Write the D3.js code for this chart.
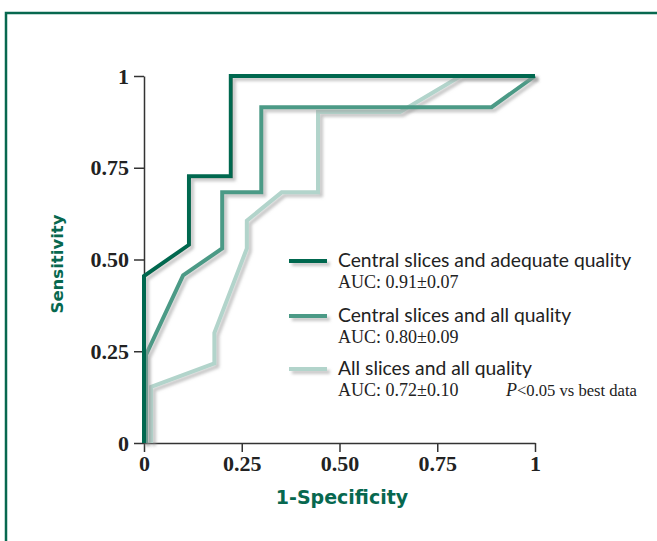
<!DOCTYPE html>
<html><head><meta charset="utf-8">
<script src="https://cdn.jsdelivr.net/npm/d3@7"></script>
<style>body{margin:0;background:#fff;} svg{display:block}</style>
</head><body><svg id="c" width="657" height="541"></svg>
<script>
// ---- data ----
const xTickValues = [0, 0.25, 0.5, 0.75, 1];
const xTickLabels = ["0", "0.25", "0.50", "0.75", "1"];
const yTickValues = [0, 0.25, 0.5, 0.75, 1];
const yTickLabels = ["0", "0.25", "0.50", "0.75", "1"];
const seriesNames = ["Central slices and adequate quality", "Central slices and all quality", "All slices and all quality"];
const aucLabels = ["AUC: 0.91\u00B10.07", "AUC: 0.80\u00B10.09", "AUC: 0.72\u00B10.10"];
const pNotes = ["", "", "<0.05 vs best data"];
const fprAdequate = [0, 0, 0.115, 0.115, 0.222, 0.222, 1];
const tprAdequate = [0, 0.455, 0.54, 0.727, 0.727, 1, 1];
const fprAllQuality = [0.005, 0.005, 0.1, 0.2, 0.2, 0.3, 0.3, 0.889, 1];
const tprAllQuality = [0, 0.24, 0.457, 0.53, 0.683, 0.683, 0.915, 0.915, 1];
const fprAllSlices = [0.018, 0.018, 0.18, 0.18, 0.263, 0.263, 0.352, 0.445, 0.445, 0.655, 0.81, 1];
const tprAllSlices = [0, 0.153, 0.217, 0.3, 0.53, 0.606, 0.683, 0.683, 0.902, 0.902, 1, 1];

const colors = ["#04684f", "#4c9a86", "#b2d4cb"];
const series = [
  {fpr: fprAdequate, tpr: tprAdequate},
  {fpr: fprAllQuality, tpr: tprAllQuality},
  {fpr: fprAllSlices, tpr: tprAllSlices}
];

const svg = d3.select("#c");
const defs = svg.append("defs");
const f = defs.append("filter").attr("id", "sh").attr("filterUnits", "userSpaceOnUse")
  .attr("x", 0).attr("y", 0).attr("width", 657).attr("height", 541);
f.append("feDropShadow").attr("dx", 3).attr("dy", 3).attr("stdDeviation", 1.4)
  .attr("flood-color", "#999").attr("flood-opacity", 0.55);

// frame
svg.append("rect").attr("x", 6).attr("y", 13).attr("width", 720).attr("height", 620)
  .attr("fill", "none").attr("stroke", "#07684f").attr("stroke-width", 2.5);

const x = d3.scaleLinear().domain([0, 1]).range([144, 535]);
const y = d3.scaleLinear().domain([0, 1]).range([443, 76]);

const tickFont = "'Liberation Serif', serif";

const gx = svg.append("g").attr("transform", "translate(0,443)")
  .call(d3.axisBottom(x).tickValues(xTickValues).tickSize(9).tickSizeOuter(0).tickPadding(3)
    .tickFormat((d, i) => xTickLabels[i]));
const gy = svg.append("g").attr("transform", "translate(144,0)")
  .call(d3.axisLeft(y).tickValues(yTickValues).tickSize(10).tickSizeOuter(0).tickPadding(5)
    .tickFormat((d, i) => yTickLabels[i]));
[gx, gy].forEach(g => {
  g.select(".domain").attr("stroke", "#333").attr("stroke-width", 1.5);
  g.selectAll(".tick line").attr("stroke", "#333").attr("stroke-width", 1.5);
  g.selectAll(".tick text").attr("fill", "#222").style("font-family", tickFont)
    .style("font-weight", "bold").style("font-size", "22px");
});

// curves
const line = d3.line().x(d => x(d[0])).y(d => y(d[1]));
[2, 1, 0].forEach(i => {
  const s = series[i];
  const pts = s.fpr.map((v, k) => [v, s.tpr[k]]);
  svg.append("path").attr("d", line(pts)).attr("fill", "none")
    .attr("stroke", colors[i]).attr("stroke-width", 4).attr("stroke-linejoin", "miter")
    .attr("filter", "url(#sh)");
});

// legend
const legY = [261, 316, 369];
seriesNames.forEach((n, i) => {
  svg.append("line").attr("x1", 289).attr("x2", 327).attr("y1", legY[i]).attr("y2", legY[i])
    .attr("stroke", colors[i]).attr("stroke-width", 4).attr("filter", "url(#sh)");
  svg.append("text").attr("x", 338).attr("y", legY[i] + 6).text(n)
    .style("font-family", "Lato, sans-serif").style("font-size", "19.3px").attr("fill", "#222");
  const t = svg.append("text").attr("x", 338).attr("y", legY[i] + 27)
    .style("font-family", "'Liberation Serif', serif").style("font-size", "18px").attr("fill", "#222");
  t.append("tspan").text(aucLabels[i]);
  if (pNotes[i]) {
    t.append("tspan").attr("x", 506).text("P").style("font-style", "italic");
    t.append("tspan").text(pNotes[i]).style("font-size", "16.6px");
  }
});

// axis titles
svg.append("text").attr("x", 342).attr("y", 504).attr("text-anchor", "middle")
  .text("1-Specificity").attr("fill", "#07684f")
  .style("font-family", "'DejaVu Sans', sans-serif").style("font-weight", "bold").style("font-size", "19px");
svg.append("text").attr("transform", "translate(63,264) rotate(-90)").attr("text-anchor", "middle")
  .text("Sensitivity").attr("fill", "#07684f")
  .style("font-family", "'DejaVu Sans', sans-serif").style("font-weight", "bold").style("font-size", "16.5px");
</script></body></html>
